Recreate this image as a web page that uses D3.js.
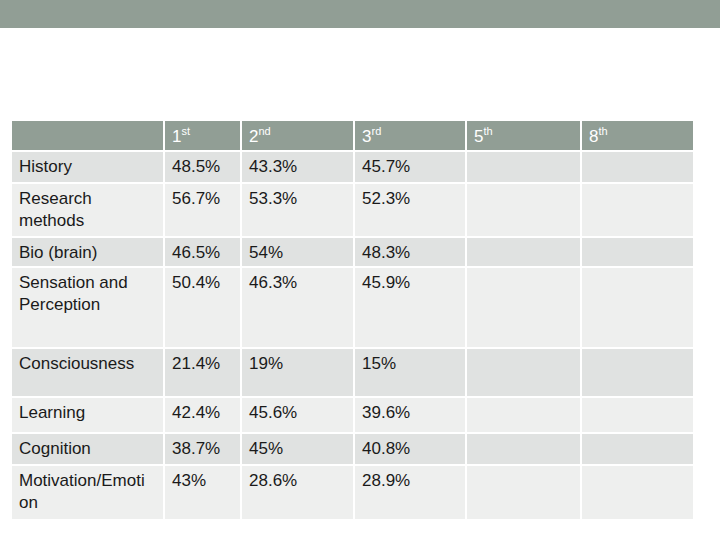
<!DOCTYPE html>
<html><head><meta charset="utf-8">
<script src="https://cdn.jsdelivr.net/npm/d3@7"></script>
<style>body{margin:0;background:#fff;font-family:"Liberation Sans",Arial,sans-serif;}</style>
</head><body>
<script>
var columns = [["", ""], ["1", "st"], ["2", "nd"], ["3", "rd"], ["5", "th"], ["8", "th"]];
var topics = [["History"], ["Research", "methods"], ["Bio (brain)"], ["Sensation and", "Perception"],
    ["Consciousness"], ["Learning"], ["Cognition"], ["Motivation/Emoti", "on"]];
var first = ["48.5%", "56.7%", "46.5%", "50.4%", "21.4%", "42.4%", "38.7%", "43%"];
var second = ["43.3%", "53.3%", "54%", "46.3%", "19%", "45.6%", "45%", "28.6%"];
var third = ["45.7%", "52.3%", "48.3%", "45.9%", "15%", "39.6%", "40.8%", "28.9%"];

// layout
var width = 720, height = 540;
var colEdges = [12, 165, 242, 355, 467, 582, 695];
var rowEdges = [121, 152, 184, 238, 268, 349, 398, 434, 466, 521];

var svg = d3.select("body").append("svg").attr("width", width).attr("height", height);
svg.append("rect").attr("width", width).attr("height", 28).attr("fill", "#919e95");

var x = d3.scaleOrdinal().domain(d3.range(6)).range(colEdges.slice(0, 6));
var y = d3.scaleOrdinal().domain(d3.range(9)).range(rowEdges.slice(0, 9));

var rows = d3.range(9).map(function(r){
    if (r == 0) return columns.map(function(c){ return {head: c}; });
    var i = r - 1;
    return [topics[i], [first[i]], [second[i]], [third[i]], [""], [""]].map(function(t){ return {lines: t}; });
});

rows.forEach(function(row, r){
    var g = svg.append("g");
    var h = rowEdges[r + 1] - rowEdges[r] - 2;
    g.selectAll("rect").data(row).enter().append("rect")
        .attr("x", function(d, c){ return x(c); })
        .attr("y", y(r))
        .attr("width", function(d, c){ return colEdges[c + 1] - colEdges[c] - 2; })
        .attr("height", h)
        .attr("fill", r == 0 ? "#919e95" : (r % 2 ? "#e0e2e1" : "#eeefee"));
    if (r == 0) {
        var t = g.selectAll("text").data(row).enter().append("text")
            .attr("x", function(d, c){ return x(c) + 7; })
            .attr("y", y(r) + 21)
            .attr("fill", "#fff").attr("font-size", 17);
        t.append("tspan").text(function(d){ return d.head[0]; });
        t.append("tspan").attr("font-size", 11).attr("dy", -7).text(function(d){ return d.head[1]; });
    } else {
        g.selectAll("text").data(row).enter().append("text")
            .attr("x", function(d, c){ return c == 0 ? 19 : x(c) + 7; })
            .attr("y", y(r) + 20)
            .attr("fill", "#1a1a1a").attr("font-size", 17)
            .selectAll("tspan").data(function(d){ return d.lines; }).enter().append("tspan")
            .attr("x", function(){ return d3.select(this.parentNode).attr("x"); })
            .attr("dy", function(d, i){ return i ? 21.5 : 0; })
            .text(function(d){ return d; });
    }
});
</script>
</body></html>
